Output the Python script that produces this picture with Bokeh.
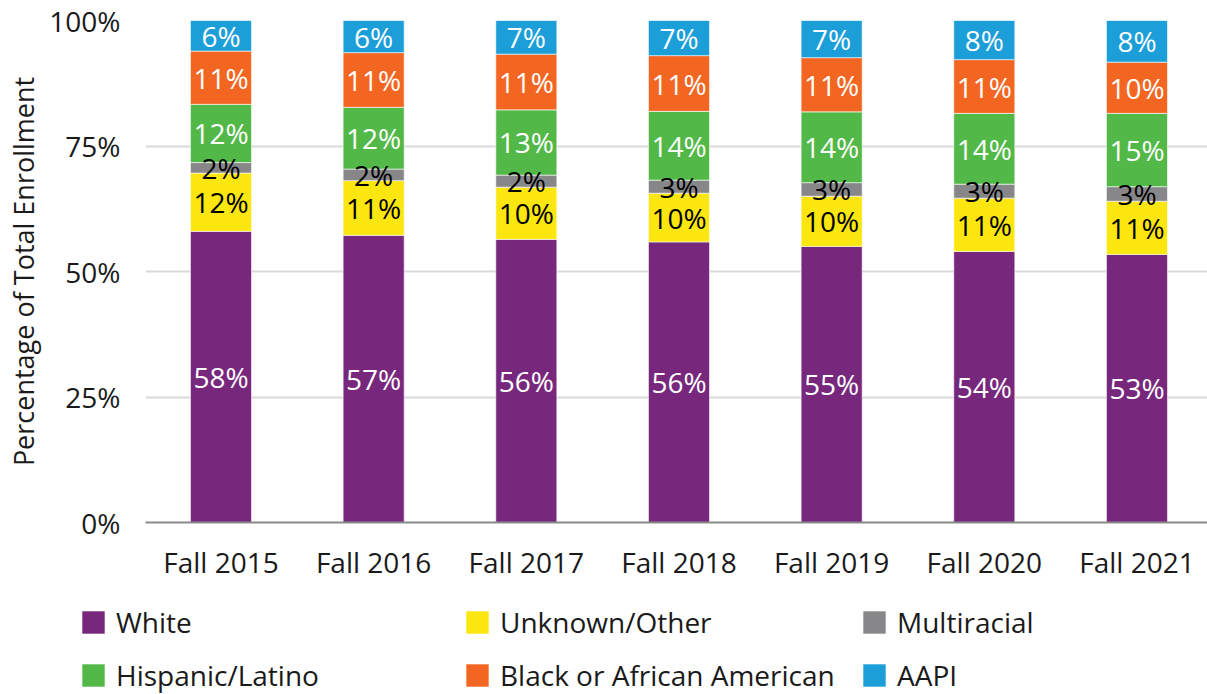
from bokeh.plotting import figure
from bokeh.layouts import column
from bokeh.models import (ColumnDataSource, Range1d, Legend, LegendItem, LabelSet,
                          FixedTicker, PrintfTickFormatter)
from bokeh.core.properties import value
from bokeh.embed import file_html
from bokeh.resources import INLINE

# ---- data (percent of total enrollment) ----
categories = ["Fall 2015", "Fall 2016", "Fall 2017", "Fall 2018", "Fall 2019", "Fall 2020", "Fall 2021"]
white = [58.0, 57.2, 56.4, 55.9, 55.0, 54.0, 53.4]
unknown_other = [11.6, 10.9, 10.4, 9.7, 10.0, 10.6, 10.6]
multiracial = [2.1, 2.3, 2.4, 2.6, 2.7, 2.8, 2.9]
hispanic_latino = [11.6, 12.3, 13.0, 13.7, 14.1, 14.1, 14.6]
black_african_american = [10.6, 10.9, 11.1, 11.1, 10.8, 10.7, 10.2]
aapi = [6.1, 6.4, 6.7, 7.0, 7.4, 7.8, 8.3]
y_ticks = [0, 25, 50, 75, 100]

series_names = ["White", "Unknown/Other", "Multiracial", "Hispanic/Latino",
                "Black or African American", "AAPI"]
series_values = [white, unknown_other, multiracial, hispanic_latino, black_african_american, aapi]
series_colors = ["#77287D", "#FBE60F", "#87878A", "#52B848", "#F36621", "#1C9ED9"]
label_colors = ["#FFFFFF", "#000000", "#000000", "#FFFFFF", "#FFFFFF", "#FFFFFF"]

FONT = "Open Sans"

xs = list(range(len(categories)))
data = {"x": xs}
keys = []
for i, vals in enumerate(series_values):
    k = f"s{i}"
    keys.append(k)
    data[k] = vals
bottoms = [0.0] * len(categories)
for i, vals in enumerate(series_values):
    data[f"mid{i}"] = [b + v / 2 for b, v in zip(bottoms, vals)]
    data[f"lab{i}"] = [f"{int(v + 0.5)}%" for v in vals]
    bottoms = [b + v for b, v in zip(bottoms, vals)]
source = ColumnDataSource(data)

p = figure(width=1207, height=590, output_backend="svg", toolbar_location=None,
           x_range=Range1d(-0.4945, 6.462), y_range=Range1d(0, 100),
           min_border_left=145, min_border_right=0, min_border_top=20, min_border_bottom=68)
p.frame_align = False
p.outline_line_color = None
p.background_fill_color = "white"
p.border_fill_color = "white"

renderers = p.vbar_stack(keys, x="x", width=0.4, source=source, color=series_colors,
                         line_color="white", line_width=0.6)

for i in range(len(series_values)):
    ls = LabelSet(x="x", y=f"mid{i}", text=f"lab{i}", source=source,
                  text_align="center", text_baseline="middle",
                  text_font=value(FONT), text_font_size="28px", text_color=label_colors[i])
    p.add_layout(ls)

p.xgrid.grid_line_color = None
p.ygrid.grid_line_color = "#D9D9D9"
p.ygrid.grid_line_width = 2
p.ygrid.ticker = FixedTicker(ticks=y_ticks)

p.yaxis.ticker = FixedTicker(ticks=y_ticks)
p.yaxis.formatter = PrintfTickFormatter(format="%d%%")
p.yaxis.axis_line_color = None
p.yaxis.major_tick_line_color = None
p.yaxis.minor_tick_line_color = None
p.yaxis.major_tick_out = 0
p.yaxis.major_tick_in = 0
p.yaxis.major_label_standoff = 25
p.yaxis.major_label_text_font = FONT
p.yaxis.major_label_text_font_size = "28px"
p.yaxis.major_label_text_color = "#1A1A1A"
p.yaxis.axis_label = "Percentage of Total Enrollment"
p.yaxis.axis_label_text_font = FONT
p.yaxis.axis_label_text_font_size = "27px"
p.yaxis.axis_label_text_font_style = "normal"
p.yaxis.axis_label_text_color = "#1A1A1A"
p.yaxis.axis_label_standoff = 4

p.xaxis.ticker = FixedTicker(ticks=xs)
p.xaxis.major_label_overrides = {x: c for x, c in zip(xs, categories)}
p.xaxis.axis_line_color = "#898989"
p.xaxis.axis_line_width = 2
p.xaxis.major_tick_line_color = None
p.xaxis.minor_tick_line_color = None
p.xaxis.major_tick_out = 0
p.xaxis.major_tick_in = 0
p.xaxis.major_label_standoff = 20
p.xaxis.major_label_text_font = FONT
p.xaxis.major_label_text_font_size = "28px"
p.xaxis.major_label_text_color = "#1A1A1A"

# ---- legend strip below the chart ----
pl = figure(width=1207, height=104, output_backend="svg", toolbar_location=None,
            x_range=Range1d(0, 1), y_range=Range1d(0, 1),
            x_axis_location=None, y_axis_location=None,
            min_border_left=0, min_border_right=0, min_border_top=0, min_border_bottom=0)
pl.frame_align = False
pl.outline_line_color = None
pl.xgrid.visible = False
pl.ygrid.visible = False
swatches = []
for c in series_colors:
    # zero-height bar: provides the legend swatch only
    swatches.append(pl.vbar(x=[0.5], top=[0], bottom=[0], width=0.1, fill_color=c, line_color=None))

columns = [[0, 3], [1, 4], [2, 5]]
col_x = [79, 463, 860]
for col, cx in zip(columns, col_x):
    items = [LegendItem(label=series_names[j], renderers=[swatches[j]]) for j in col]
    lg = Legend(items=items, location=(cx, 0), orientation="vertical",
                padding=0, margin=0, spacing=15,
                glyph_width=28, glyph_height=28, label_height=28, label_standoff=9,
                label_text_font=FONT, label_text_font_size="28px", label_text_color="#1A1A1A",
                border_line_color=None, background_fill_alpha=0)
    pl.add_layout(lg, "center")

layout = column(p, pl, spacing=0)
open("out.html", "w").write(file_html(layout, INLINE))
